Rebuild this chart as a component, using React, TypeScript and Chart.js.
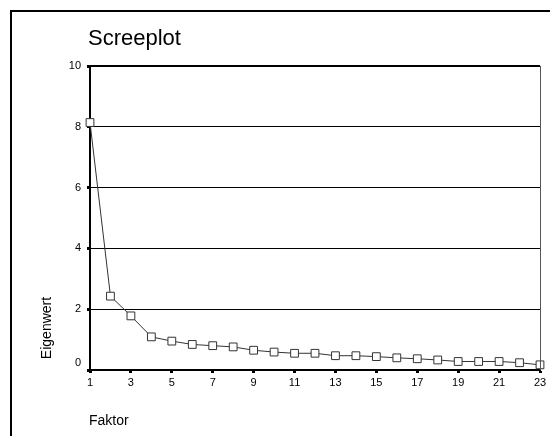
import React, { useEffect, useRef } from "react";
import { Chart, registerables } from "chart.js";

Chart.register(...registerables);

const factors = [1, 2, 3, 4, 5, 6, 7, 8, 9, 10, 11, 12, 13, 14, 15, 16, 17, 18, 19, 20, 21, 22, 23];
const eigenvalues = [8.14, 2.43, 1.78, 1.09, 0.95, 0.84, 0.8, 0.76, 0.65, 0.59, 0.55, 0.55, 0.47, 0.47, 0.44, 0.4, 0.37, 0.33, 0.28, 0.28, 0.28, 0.24, 0.17];
const xTicks = [1, 3, 5, 7, 9, 11, 13, 15, 17, 19, 21, 23];
const yTicks = [0, 2, 4, 6, 8, 10];
const titleText = "Screeplot";
const yAxisTitle = "Eigenwert";
const xAxisTitle = "Faktor";

const FONT = "Arial, 'Liberation Sans', sans-serif";

const decorPlugin = {
  id: "decor",
  afterDraw(chart: any) {
    const ctx = chart.ctx;
    const a = chart.chartArea;
    const ys = chart.scales.y;
    ctx.save();
    // outer frame
    ctx.strokeStyle = "#000";
    ctx.lineWidth = 2;
    ctx.beginPath();
    ctx.moveTo(11, chart.height + 2);
    ctx.lineTo(11, 11);
    ctx.lineTo(chart.width + 2, 11);
    ctx.stroke();
    // top border of plot
    ctx.lineWidth = 2;
    ctx.beginPath();
    ctx.moveTo(a.left, a.top);
    ctx.lineTo(a.right, a.top);
    ctx.stroke();
    // right border
    ctx.strokeStyle = "#555";
    ctx.lineWidth = 1;
    ctx.beginPath();
    ctx.moveTo(a.right + 0.5, a.top);
    ctx.lineTo(a.right + 0.5, a.bottom);
    ctx.stroke();
    // y tick labels (the bottom one sits above the axis line)
    ctx.fillStyle = "#000";
    ctx.font = `11px ${FONT}`;
    ctx.textAlign = "right";
    ctx.textBaseline = "middle";
    yTicks.forEach((v) => {
      const py = ys.getPixelForValue(v) + (v === ys.min ? -7 : 0);
      ctx.fillText(String(v), a.left - 9, py);
    });
    // title
    ctx.font = `22px ${FONT}`;
    ctx.textAlign = "left";
    ctx.fillText(titleText, a.left - 2, 39);
    // x axis title
    ctx.font = `14px ${FONT}`;
    ctx.fillText(xAxisTitle, a.left - 1, a.bottom + 51);
    // y axis title
    ctx.translate(a.left - 43, a.bottom - 42);
    ctx.rotate(-Math.PI / 2);
    ctx.textAlign = "center";
    ctx.fillText(yAxisTitle, 0, 0);
    ctx.restore();
  },
};

export default function App() {
  const ref = useRef<HTMLCanvasElement | null>(null);
  useEffect(() => {
    document.body.style.margin = "0";
    const canvas = ref.current!;
    const chart = new Chart(canvas, {
      type: "line",
      data: {
        datasets: [
          {
            data: factors.map((f, i) => ({ x: f, y: eigenvalues[i] })),
            borderColor: "#333",
            borderWidth: 1,
            pointStyle: "rect",
            pointRadius: 5.5,
            pointBackgroundColor: "#fff",
            pointBorderColor: "#333",
            pointBorderWidth: 1,
            tension: 0,
            clip: false,
          },
        ],
      },
      options: {
        animation: false,
        responsive: false,
        devicePixelRatio: 1,
        layout: { padding: { left: 0, top: 66, right: 10, bottom: 0 } },
        plugins: { legend: { display: false }, tooltip: { enabled: false }, title: { display: false } },
        scales: {
          x: {
            type: "linear",
            min: 1,
            max: 23,
            afterBuildTicks: (scale: any) => {
              scale.ticks = xTicks.map((v) => ({ value: v }));
            },
            afterFit: (scale: any) => {
              scale.height = 66;
            },
            grid: { drawOnChartArea: false, tickLength: 3, tickWidth: 3, color: "#000" },
            border: { color: "#000", width: 2 },
            ticks: { color: "#000", font: { size: 11, family: FONT }, padding: 3, maxRotation: 0, autoSkip: false },
          },
          y: {
            type: "linear",
            min: 0,
            max: 10,
            afterBuildTicks: (scale: any) => {
              scale.ticks = yTicks.map((v) => ({ value: v }));
            },
            afterFit: (scale: any) => {
              scale.width = 90;
            },
            grid: { color: "#000", lineWidth: 1, tickLength: 3, tickWidth: 3, tickColor: "#000" },
            border: { color: "#000", width: 2 },
            ticks: { display: false },
          },
        },
      },
      plugins: [decorPlugin],
    } as any);
    return () => chart.destroy();
  }, []);
  return <canvas ref={ref} width={550} height={436} style={{ display: "block" }} />;
}
